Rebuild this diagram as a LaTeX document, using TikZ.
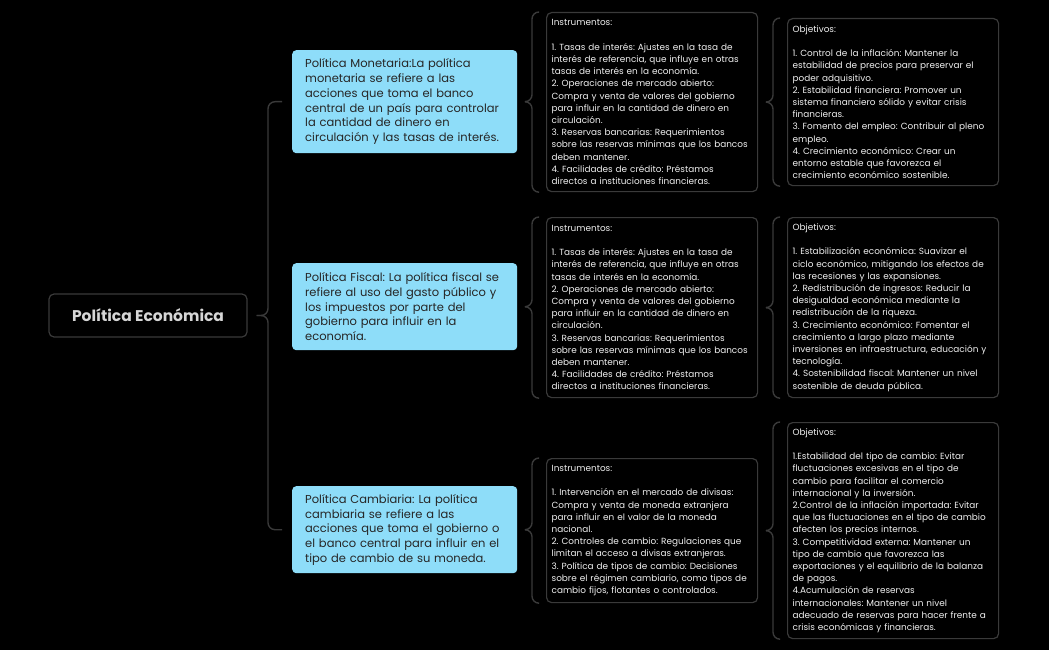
\documentclass[tikz,border=0pt]{standalone}
\usepackage{fontspec}
\setmainfont{Poppins}
\usetikzlibrary{positioning}
\frenchspacing
\definecolor{topicblue}{RGB}{142,221,249}
\definecolor{edgegray}{RGB}{58,58,58}
\definecolor{roottext}{RGB}{214,214,214}
\definecolor{notetext}{RGB}{240,240,240}
\newcommand{\insttext}{Instrumentos:\\[12.2pt]
1. Tasas de interés: Ajustes en la tasa de\\
interés de referencia, que influye en otras\\
tasas de interés en la economía.\\
2. Operaciones de mercado abierto:\\
Compra y venta de valores del gobierno\\
para influir en la cantidad de dinero en\\
circulación.\\
3. Reservas bancarias: Requerimientos\\
sobre las reservas mínimas que los bancos\\
deben mantener.\\
4. Facilidades de crédito: Préstamos\\
directos a instituciones financieras.}

\begin{document}
\begin{tikzpicture}[x=1pt, y=-1pt, rootbox/.style={rectangle, rounded corners=5pt, draw=edgegray, line width=1.2pt, fill=black, text=roottext, font=\fontsize{15.5}{18}\selectfont\bfseries, minimum width=198pt, minimum height=43pt}, topicbox/.style={rectangle, rounded corners=4pt, fill=topicblue, text=black!85, anchor=north west, align=left, font=\fontsize{11.5}{14.7}\selectfont, text width=199pt, inner xsep=13pt, inner ysep=0pt}, notebox/.style={rectangle, rounded corners=5pt, draw=edgegray, line width=1.2pt, fill=black, text=notetext, anchor=north west, align=left, font=\fontsize{8.9}{12.2}\selectfont, text width=201pt, inner xsep=5pt, inner ysep=0pt}, bracket/.style={draw=edgegray, line width=1.4pt, rounded corners=7pt}]
\fill[black] (0,0) rectangle (1049,650);
\node[rootbox] (pe) at (148,315.5) {Política Económica};
\node[topicbox, minimum height=103pt] (mon) at (292,50) {Política Monetaria:La política\\
monetaria se refiere a las\\
acciones que toma el banco\\
central de un país para controlar\\
la cantidad de dinero en\\
circulación y las tasas de interés.};
\node[topicbox, minimum height=87pt] (fis) at (292,263) {Política Fiscal: La política fiscal se\\
refiere al uso del gasto público y\\
los impuestos por parte del\\
gobierno para influir en la\\
economía.};
\node[topicbox, minimum height=87pt] (cam) at (292,486) {Política Cambiaria: La política\\
cambiaria se refiere a las\\
acciones que toma el gobierno o\\
el banco central para influir en el\\
tipo de cambio de su moneda.};
\node[notebox, minimum height=179pt] (ins1) at (546,12) {\insttext};
\node[notebox, minimum height=180pt] (ins2) at (546,217) {\insttext};
\node[notebox, minimum height=144pt] (ins3) at (546,458) {Instrumentos:\\[12.2pt]
1. Intervención en el mercado de divisas:\\
Compra y venta de moneda extranjera\\
para influir en el valor de la moneda\\
nacional.\\
2. Controles de cambio: Regulaciones que\\
limitan el acceso a divisas extranjeras.\\
3. Política de tipos de cambio: Decisiones\\
sobre el régimen cambiario, como tipos de\\
cambio fijos, flotantes o controlados.};
\node[notebox, minimum height=167pt] (obj1) at (787,18) {Objetivos:\\[12.2pt]
1. Control de la inflación: Mantener la\\
estabilidad de precios para preservar el\\
poder adquisitivo.\\
2. Estabilidad financiera: Promover un\\
sistema financiero sólido y evitar crisis\\
financieras.\\
3. Fomento del empleo: Contribuir al pleno\\
empleo.\\
4. Crecimiento económico: Crear un\\
entorno estable que favorezca el\\
crecimiento económico sostenible.};
\node[notebox, minimum height=180pt] (obj2) at (787,217) {Objetivos:\\[12.2pt]
1. Estabilización económica: Suavizar el\\
ciclo económico, mitigando los efectos de\\
las recesiones y las expansiones.\\
2. Redistribución de ingresos: Reducir la\\
desigualdad económica mediante la\\
redistribución de la riqueza.\\
3. Crecimiento económico: Fomentar el\\
crecimiento a largo plazo mediante\\
inversiones en infraestructura, educación y\\
tecnología.\\
4. Sostenibilidad fiscal: Mantener un nivel\\
sostenible de deuda pública.};
\node[notebox, minimum height=216pt] (obj3) at (787,422) {Objetivos:\\[12.2pt]
1.Estabilidad del tipo de cambio: Evitar\\
fluctuaciones excesivas en el tipo de\\
cambio para facilitar el comercio\\
internacional y la inversión.\\
2.Control de la inflación importada: Evitar\\
que las fluctuaciones en el tipo de cambio\\
afecten los precios internos.\\
3. Competitividad externa: Mantener un\\
tipo de cambio que favorezca las\\
exportaciones y el equilibrio de la balanza\\
de pagos.\\
4.Acumulación de reservas\\
internacionales: Mantener un nivel\\
adecuado de reservas para hacer frente a\\
crisis económicas y financieras.};
\draw[bracket] ([xshift=9pt]pe.east) -| ([xshift=-24pt]mon.west) -- ([xshift=-10pt]mon.west);
\draw[bracket] ([xshift=9pt]pe.east) -| ([xshift=-24pt]cam.west) -- ([xshift=-10pt]cam.west);
\foreach \src/\dst in {mon/ins1, fis/ins2, cam/ins3, ins1/obj1, ins2/obj2, ins3/obj3} {
  \draw[bracket] ([xshift=9pt]\src.east) -| ([xshift=-14pt]\dst.north west) -- ([xshift=-8pt]\dst.north west);
  \draw[bracket] ([xshift=9pt]\src.east) -| ([xshift=-14pt]\dst.south west) -- ([xshift=-8pt]\dst.south west);
}
\end{tikzpicture}
\end{document}
